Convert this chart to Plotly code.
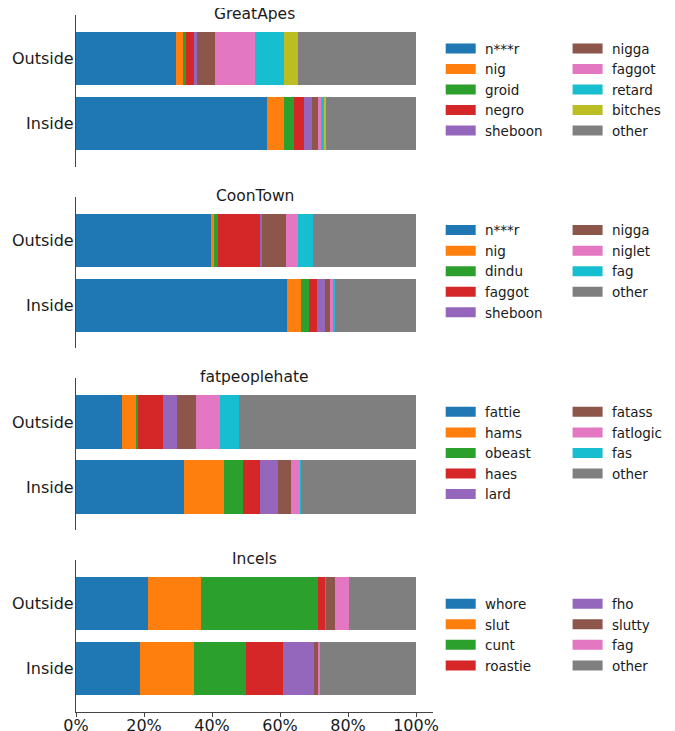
import plotly.graph_objects as go

# ---------------- data (percent of term occurrences) ----------------
panels = ["GreatApes", "CoonTown", "fatpeoplehate", "Incels"]
groups = ["Inside", "Outside"]

greatapes_terms = ["n***r", "nig", "groid", "negro", "sheboon", "nigga", "faggot", "retard", "bitches", "other"]
greatapes_outside = [29.4, 2.1, 0.9, 2.3, 0.9, 5.3, 11.7, 8.5, 4.1, 34.8]
greatapes_inside = [56.1, 5.0, 2.9, 3.0, 2.3, 1.8, 1.1, 0.6, 0.6, 26.6]

coontown_terms = ["n***r", "nig", "dindu", "faggot", "sheboon", "nigga", "niglet", "fag", "other"]
coontown_outside = [39.7, 0.9, 1.1, 12.7, 0.2, 7.1, 3.5, 4.5, 30.3]
coontown_inside = [62.0, 4.1, 2.3, 2.4, 2.3, 1.5, 0.9, 0.6, 23.9]

fph_terms = ["fattie", "hams", "obeast", "haes", "lard", "fatass", "fatlogic", "fas", "other"]
fph_outside = [13.6, 4.1, 0.6, 7.3, 4.1, 5.6, 7.0, 5.7, 52.0]
fph_inside = [31.8, 11.7, 5.6, 5.0, 5.2, 3.8, 2.9, 0.3, 33.7]

incels_terms = ["whore", "slut", "cunt", "roastie", "fho", "slutty", "fag", "other"]
incels_outside = [21.2, 15.6, 34.3, 2.3, 0.2, 2.6, 4.2, 19.6]
incels_inside = [18.9, 15.8, 15.3, 10.8, 9.1, 1.2, 0.8, 28.1]

x_ticks = [0, 20, 40, 60, 80, 100]
x_tick_labels = ["0%", "20%", "40%", "60%", "80%", "100%"]

# ---------------- style ----------------
palette = ["#1f77b4", "#ff7f0e", "#2ca02c", "#d62728", "#9467bd",
           "#8c564b", "#e377c2", "#17becf", "#bcbd22"]
other_color = "#7f7f7f"
FONT = "DejaVu Sans"
TXT = "#1a1a1a"
AX = "#444444"

OFF = 8  # page body margin of the browser
W, H = 675 - OFF, 731 - OFF
# pixel positions below are given in window coordinates, converted with OFF
L, R, T, B = 76 - OFF, 433.3 - OFF, 15 - OFF, 711.7 - OFF
PH = B - T
panel_px = [(15, 166.7), (196.7, 348.3), (378.3, 530), (560, 711.7)]
ROW_H = 20.3  # legend row height in px (approx.)

data = [
    (greatapes_terms, greatapes_outside, greatapes_inside),
    (coontown_terms, coontown_outside, coontown_inside),
    (fph_terms, fph_outside, fph_inside),
    (incels_terms, incels_outside, incels_inside),
]

fig = go.Figure()
layout = dict(
    width=W, height=H,
    margin=dict(l=L, r=W - R, t=T, b=H - B, pad=0, autoexpand=False),
    paper_bgcolor="white", plot_bgcolor="white",
    barmode="stack", bargap=0.18,
    font=dict(family=FONT, color=TXT, size=15.5),
    annotations=[],
    showlegend=True,
)

def py2paper(py):
    return (B - (py - OFF)) / PH

def px2paper(px):
    return ((px - OFF) - L) / (R - L)

leg_idx = 1
for i, (name, (terms, outside, inside)) in enumerate(zip(panels, data)):
    n = i + 1
    xa = "x" if n == 1 else f"x{n}"
    ya = "y" if n == 1 else f"y{n}"
    top, bot = panel_px[i]
    dom = [py2paper(bot), py2paper(top)]
    ncol1 = (len(terms) + 1) // 2
    lg1 = "legend" if leg_idx == 1 else f"legend{leg_idx}"
    lg2 = f"legend{leg_idx + 1}"
    for j, term in enumerate(terms):
        col = other_color if term == "other" else palette[j]
        fig.add_trace(go.Bar(
            y=groups, x=[inside[j], outside[j]], orientation="h",
            marker=dict(color=col, line=dict(width=0)),
            xaxis=xa, yaxis=ya, showlegend=False, name=term,
            hoverinfo="skip",
        ))
        fig.add_trace(go.Scatter(
            x=[None], y=[None], mode="lines", name="\u00a0" + term,
            line=dict(color=col, width=10),
            xaxis=xa, yaxis=ya, showlegend=True,
            legend=lg1 if j < ncol1 else lg2,
        ))
    mid_px = (top + bot) / 2
    leg_top_px = mid_px - ncol1 * ROW_H / 2 - 7
    for k, xpx in enumerate([441, 568]):
        key = "legend" if (leg_idx + k) == 1 else f"legend{leg_idx + k}"
        layout[key] = dict(
            x=px2paper(xpx), xanchor="left",
            y=py2paper(leg_top_px), yanchor="top",
            font=dict(family=FONT, size=13.5, color=TXT),
            bgcolor="rgba(0,0,0,0)", borderwidth=0,
            itemwidth=30, traceorder="normal", itemclick=False,
        )
    leg_idx += 2

    xkey = "xaxis" if n == 1 else f"xaxis{n}"
    ykey = "yaxis" if n == 1 else f"yaxis{n}"
    last = (n == len(panels))
    layout[xkey] = dict(
        domain=[0, 1], anchor=ya, range=[0, 105], type="linear",
        showgrid=False, zeroline=False, automargin=False,
        showline=last, linecolor=AX, linewidth=1.2,
        showticklabels=last, tickmode="array",
        tickvals=x_ticks, ticktext=x_tick_labels,
        ticks="outside" if last else "", ticklen=3.5, tickcolor=AX,
        tickfont=dict(family=FONT, size=16, color=TXT),
        ticklabelstandoff=-5, fixedrange=True,
    )
    layout[ykey] = dict(
        domain=dom, anchor=xa, type="category",
        categoryorder="array", categoryarray=groups,
        range=[-0.665, 1.669], automargin=False,
        showgrid=False, zeroline=False,
        showline=True, linecolor=AX, linewidth=1.2,
        ticks="", tickfont=dict(family=FONT, size=16, color=TXT),
        ticklabelstandoff=-2, fixedrange=True,
    )
    layout["annotations"].append(dict(
        text=name, x=0.5, xref="paper", xanchor="center",
        y=py2paper(top - 1), yref="paper", yanchor="middle",
        showarrow=False, font=dict(family=FONT, size=15.5, color=TXT),
    ))

fig.update_layout(**layout)
fig.write_html("out.html")
